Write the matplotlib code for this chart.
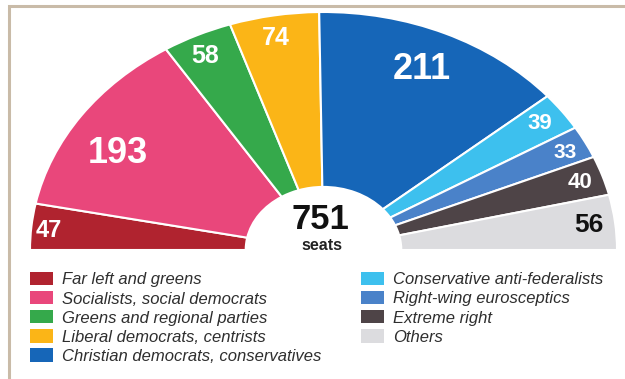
import numpy as np
import matplotlib
matplotlib.use("Agg")
import matplotlib.pyplot as plt
from matplotlib.patches import Patch, Rectangle

plt.rcParams['font.family'] = ['Liberation Sans', 'DejaVu Sans']

# seats per group, left to right across the half circle
groups = ["Far left and greens", "Socialists, social democrats", "Greens and regional parties",
          "Liberal democrats, centrists", "Christian democrats, conservatives",
          "Conservative anti-federalists", "Right-wing eurosceptics", "Extreme right", "Others"]
seats = [47, 193, 58, 74, 211, 39, 33, 40, 56]
colors = ["#b0232f", "#e9477b", "#35a94b", "#fbb517", "#1666b8",
          "#3dc0ee", "#4a82c9", "#4e4447", "#dcdcdf"]
total = sum(seats)

# label placement (radius fraction, angle shift in deg), sizes and colours
label_r = [0.94, 0.81, 0.91, 0.905, 0.83, 0.91, 0.92, 0.918, 0.91]
label_shift = [0.7, 4.2, 0.8, 0.6, 0.6, 0.3, -0.4, -0.3, -0.1]
label_size = [17, 26, 18, 18, 26, 16, 15, 16, 19]
label_col = ["white"] * 8 + ["#111111"]

fig = plt.figure(figsize=(6.25, 3.79), dpi=100)
ax = fig.add_axes([30 / 625, 1 - 250 / 379, 587 / 625, 238 / 379])

inner = 0.265
wedges, _ = ax.pie(seats + [total], colors=colors + ["white"], startangle=180, counterclock=False,
                   radius=1, wedgeprops=dict(width=1 - inner, edgecolor="white", linewidth=1.5))
wedges[-1].set_visible(False)
ax.set_aspect("auto")
ax.set_xlim(-1, 1)
ax.set_ylim(0, 1)
ax.axis("off")

# numbers on the wedges
cum = np.cumsum([0] + seats)
for i, n in enumerate(seats):
    mid = 180 - (cum[i] + n / 2) / total * 180 + label_shift[i]
    a = np.radians(mid)
    ax.text(label_r[i] * np.cos(a), label_r[i] * np.sin(a), str(n), ha="center", va="center",
            fontsize=label_size[i], fontweight="bold", color=label_col[i])

# total in the middle
ax.text(-0.01, 0.09, str(total), ha="center", va="baseline", fontsize=25, fontweight="bold", color="#111111")
ax.text(-0.005, 0.0, "seats", ha="center", va="baseline", fontsize=11.5, fontweight="bold",
        color="#222222", clip_on=False)

# legend
handles = [Patch(facecolor=c, edgecolor="none") for c in colors]
fig.legend(handles, groups, loc="upper left", bbox_to_anchor=(30 / 625, 1 - 272 / 379), ncol=2,
           frameon=False, prop=dict(family="Liberation Sans", style="italic", size=12),
           labelcolor="#2e2e2e", handlelength=1.4, handleheight=0.85, handletextpad=0.5,
           labelspacing=0.22, columnspacing=2.4, borderaxespad=0, borderpad=0)

# tan frame (only top and left edges visible)
fig.add_artist(Rectangle((9 / 625, -0.1), 1.2, 1.1 - 6 / 379, transform=fig.transFigure,
                         fill=False, edgecolor="#c9bba8", linewidth=2.2))

fig.savefig("out.png", dpi=100)
